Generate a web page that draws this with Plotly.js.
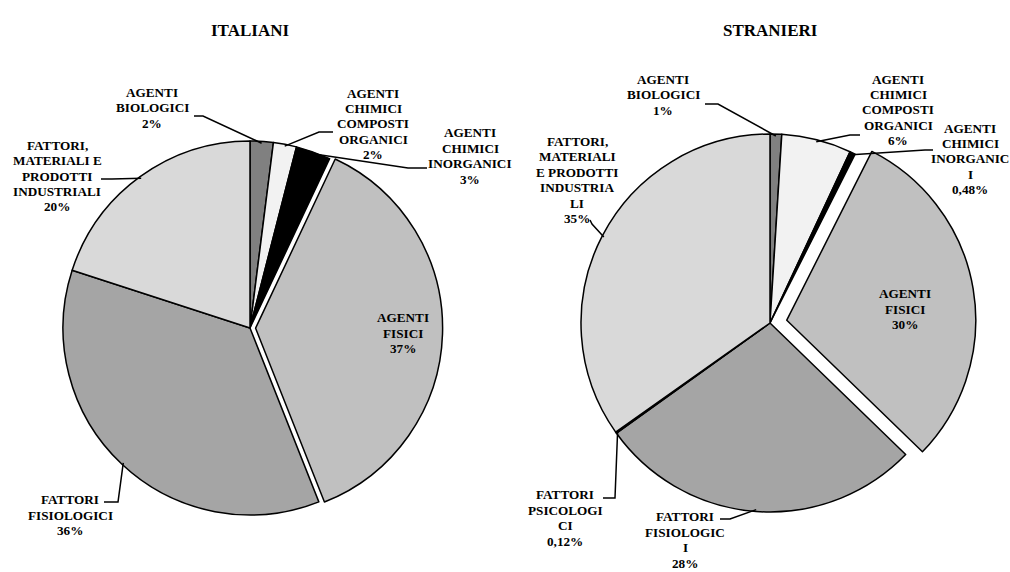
<!DOCTYPE html>
<html>
<head>
<meta charset="utf-8">
<script src="https://cdn.plot.ly/plotly-3.0.1.min.js"></script>
<style>html,body{margin:0;padding:0;background:#fff;}#chart{width:1010px;height:572px;}</style>
</head>
<body>
<div id="chart"></div>
<script>
// ---------------- DATA ----------------
var italianiLabels = ["AGENTI<br>BIOLOGICI", "AGENTI<br>CHIMICI<br>COMPOSTI<br>ORGANICI", "AGENTI<br>CHIMICI<br>INORGANICI", "AGENTI<br>FISICI", "FATTORI<br>FISIOLOGICI", "FATTORI,<br>MATERIALI E<br>PRODOTTI<br>INDUSTRIALI"];
var italianiValues = [2, 2, 3, 37, 36, 20];
var italianiColors = ["#808080", "#f2f2f2", "#000000", "#c0c0c0", "#a5a5a5", "#d9d9d9"];

var stranieriLabels = ["AGENTI<br>BIOLOGICI", "AGENTI<br>CHIMICI<br>COMPOSTI<br>ORGANICI", "AGENTI<br>CHIMICI<br>INORGANIC<br>I", "AGENTI<br>FISICI", "FATTORI<br>FISIOLOGIC<br>I", "FATTORI<br>PSICOLOGI<br>CI", "FATTORI,<br>MATERIALI<br>E PRODOTTI<br>INDUSTRIA<br>LI"];
var stranieriValues = [1, 6, 0.48, 30, 28, 0.12, 35];
var stranieriColors = ["#808080", "#f2f2f2", "#000000", "#c0c0c0", "#a5a5a5", "#996633", "#d9d9d9"];

var titles = ["ITALIANI", "STRANIERI"];

// ---------------- LAYOUT CONFIG ----------------
var W = 1010, H = 572;
var FONT = "Liberation Serif, Times New Roman, serif";
var LABEL_SIZE = 13.2, LINE_H = 15.4;
var pies = [
  { cx: 250, cy: 328, r: 187, pullIdx: 3, pull: 0.03, titleY: 30,
    labels: italianiLabels, values: italianiValues, colors: italianiColors,
    // label centre, leader start, leader elbow (px); null = no leader
    place: [
      {c: [152, 108], s: [194, 116], e: [203, 116]},
      {c: [373, 124], s: [333, 132], e: [319, 132]},
      {c: [470, 156], s: [427, 168], e: [408, 168]},
      {c: [403, 333], s: null},
      {c: [70, 515], s: [104, 502], e: [118, 502]},
      {c: [57, 176], s: [101, 179], e: [112, 179]}
    ]},
  { cx: 770, cy: 323, r: 189, pullIdx: 3, pull: 0.09, titleY: 30,
    labels: stranieriLabels, values: stranieriValues, colors: stranieriColors,
    place: [
      {c: [663, 95], s: [705, 104], e: [718, 104]},
      {c: [898, 110], s: [860, 135], e: [850, 135]},
      {c: [970, 159], s: [933, 150], e: [925, 150]},
      {c: [905, 309], s: null},
      {c: [685, 540], s: [720, 519], e: [730, 519]},
      {c: [565, 518], s: [603, 498], e: [615, 498]},
      {c: [577, 180], s: [590, 220], e: [592, 224]}
    ]}
];

function px2x(x) { return x / W; }
function px2y(y) { return 1 - y / H; }
function fmtPct(v) { return (Number.isInteger(v) ? String(v) : String(v).replace('.', ',')) + '%'; }

var traces = [], annotations = [], shapes = [];
pies.forEach(function (p, k) {
  var half = p.r * (1 + p.pull);
  var pulls = p.values.map(function (v, i) { return i === p.pullIdx ? p.pull : 0; });
  traces.push({
    type: 'pie', values: p.values, labels: p.labels, sort: false, direction: 'clockwise', rotation: 0,
    pull: pulls, textinfo: 'none', hoverinfo: 'label+percent', showlegend: false,
    marker: { colors: p.colors, line: { color: '#000000', width: 1.5 } },
    domain: { x: [px2x(p.cx - half), px2x(p.cx + half)], y: [px2y(p.cy + half), px2y(p.cy - half)] }
  });
  annotations.push({
    xref: 'paper', yref: 'paper', x: px2x(p.cx), y: px2y(p.titleY), text: '<b>' + titles[k] + '</b>', showarrow: false,
    xanchor: 'center', yanchor: 'middle', font: { family: FONT, size: 17, color: '#000' }
  });
  var total = p.values.reduce(function (a, b) { return a + b; }, 0);
  var cum = 0;
  p.values.forEach(function (v, i) {
    var f = (cum + v / 2) / total; cum += v;
    var th = 2 * Math.PI * f;
    var pl = p.place[i];
    var lines = p.labels[i].split('<br>').concat([fmtPct(v)]);
    lines.forEach(function (ln, j) {
      var yy = pl.c[1] + (j - (lines.length - 1) / 2) * LINE_H;
      annotations.push({
        xref: 'paper', yref: 'paper', x: px2x(pl.c[0]), y: px2y(yy),
        text: '<b>' + ln + '</b>', showarrow: false, align: 'center',
        xanchor: 'center', yanchor: 'middle', font: { family: FONT, size: LABEL_SIZE, color: '#000' }
      });
    });
    if (pl.s) {
      var ex = p.cx + p.r * 0.99 * Math.sin(th), ey = p.cy - p.r * 0.99 * Math.cos(th);
      shapes.push({
        type: 'path', xref: 'paper', yref: 'paper',
        path: 'M ' + px2x(pl.s[0]) + ',' + px2y(pl.s[1]) + ' L ' + px2x(pl.e[0]) + ',' + px2y(pl.e[1]) + ' L ' + px2x(ex) + ',' + px2y(ey),
        line: { color: '#000', width: 1.5 }
      });
    }
  });
});

Plotly.newPlot('chart', traces, {
  width: W, height: H, margin: { l: 0, r: 0, t: 0, b: 0 },
  paper_bgcolor: '#ffffff', plot_bgcolor: '#ffffff',
  annotations: annotations, shapes: shapes, showlegend: false
}, { displayModeBar: false, staticPlot: true });
</script>
</body>
</html>
